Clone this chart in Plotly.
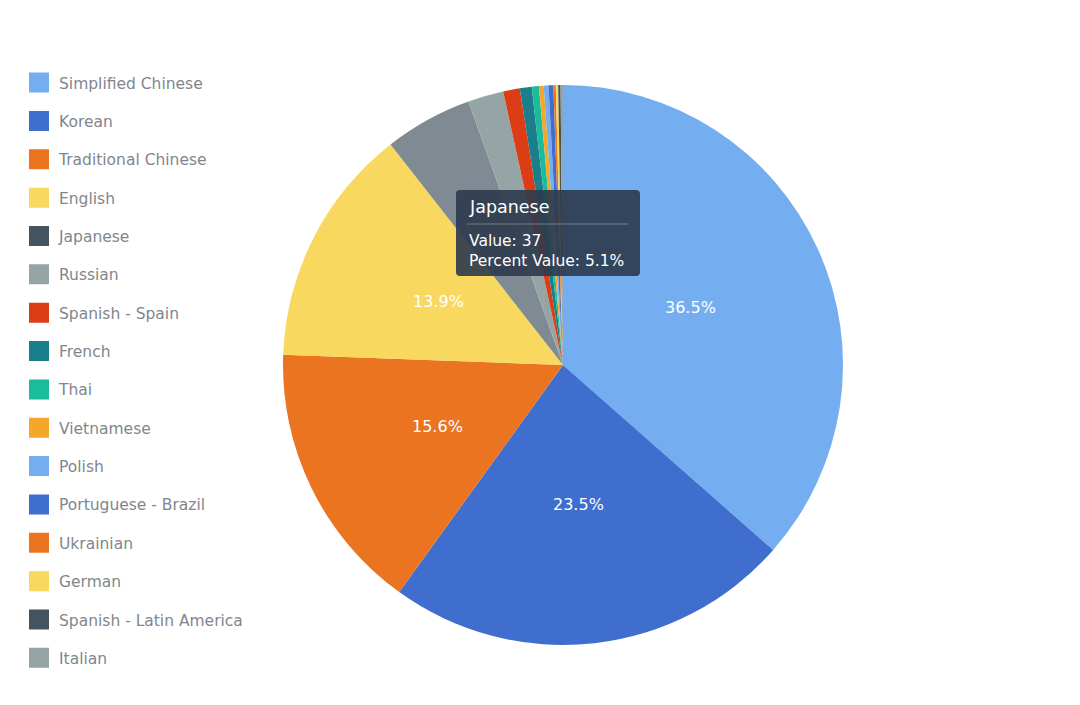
import math
import plotly.graph_objects as go

# language breakdown, clockwise from 12 o'clock
languages = ['Simplified Chinese', 'Korean', 'Traditional Chinese', 'English', 'Japanese',
             'Russian', 'Spanish - Spain', 'French', 'Thai', 'Vietnamese', 'Polish',
             'Portuguese - Brazil', 'Ukrainian', 'German', 'Spanish - Latin America', 'Italian']
values = [266, 171, 114, 101, 37, 15, 7, 5, 3, 2, 2, 2, 1, 1, 1, 1]
colors = ['#74aef1', '#3f6ecf', '#eb7420', '#f8d85e', '#44535e', '#95a5a6', '#db3d17',
          '#1a7f8a', '#1abc9c', '#f6a62a', '#74aef1', '#3f6ecf', '#eb7420', '#f8d85e',
          '#44535e', '#95a5a6']
hovered = 'Japanese'
hover_color = '#7f8a93'

W, H = 1080, 705
FONT = 'DejaVu Sans'
# page draws the plot 8px in from the corner
OFF = 8


def px(x):
    return (x - OFF) / W


def py(y):
    return 1 - (y - OFF) / H


cx, cy, R = 563, 365, 280
slice_colors = [hover_color if l == hovered else c for l, c in zip(languages, colors)]

fig = go.Figure()
fig.add_trace(go.Pie(
    labels=languages, values=values, sort=False, direction='clockwise', rotation=0,
    marker=dict(colors=slice_colors, line=dict(width=0)),
    textinfo='none',
    domain=dict(x=[px(cx - R), px(cx + R)], y=[py(cy + R), py(cy - R)]),
    showlegend=False, hoverinfo='skip',
))

# percent labels at half radius on the biggest slices
total = sum(values)
cum = 0
for l, v in zip(languages, values):
    mid = 2 * math.pi * (cum + v / 2) / total
    cum += v
    if v < 100:
        continue
    fig.add_annotation(text=f'{v / total * 100:.1f}%', xref='paper', yref='paper',
                       x=px(cx + 0.5 * R * math.sin(mid)), y=py(cy - 0.5 * R * math.cos(mid)),
                       xanchor='center', yanchor='middle',
                       showarrow=False, font=dict(color='white', size=16, family=FONT))

# legend swatches
for i, (l, c) in enumerate(zip(languages, colors)):
    fig.add_trace(go.Scatter(
        x=[None], y=[None], mode='markers', name=l, legendgroup=str(i),
        marker=dict(symbol='square', size=16, color=c, line=dict(color=c, width=4)),
    ))

# tooltip for the hovered slice
idx = languages.index(hovered)
pct = values[idx] / total * 100
x0, x1, y0, y1 = 456, 640, 190, 276
r = 4
path = (f'M {px(x0 + r)} {py(y0)} L {px(x1 - r)} {py(y0)} Q {px(x1)} {py(y0)} {px(x1)} {py(y0 + r)} '
        f'L {px(x1)} {py(y1 - r)} Q {px(x1)} {py(y1)} {px(x1 - r)} {py(y1)} '
        f'L {px(x0 + r)} {py(y1)} Q {px(x0)} {py(y1)} {px(x0)} {py(y1 - r)} '
        f'L {px(x0)} {py(y0 + r)} Q {px(x0)} {py(y0)} {px(x0 + r)} {py(y0)} Z')
fig.add_shape(type='path', path=path, xref='paper', yref='paper',
              fillcolor='rgba(44,58,76,0.9)', line=dict(width=0))
fig.add_shape(type='line', xref='paper', yref='paper', x0=px(467), x1=px(628), y0=py(224), y1=py(224),
              line=dict(color='rgba(255,255,255,0.3)', width=1))
fig.add_annotation(text=hovered, xref='paper', yref='paper', x=px(467), y=py(207),
                   xanchor='left', yanchor='middle', showarrow=False,
                   font=dict(color='white', size=17.5, family=FONT))
fig.add_annotation(text=f'Value: {values[idx]}<br>Percent Value: {pct:.1f}%', xref='paper', yref='paper',
                   x=px(467), y=py(251), xanchor='left', yanchor='middle', showarrow=False, align='left',
                   font=dict(color='white', size=15.5, family=FONT))

fig.update_layout(
    width=W, height=H,
    margin=dict(l=0, r=0, t=0, b=0),
    paper_bgcolor='white', plot_bgcolor='white',
    xaxis=dict(visible=False), yaxis=dict(visible=False),
    legend=dict(x=px(19), y=py(66), xanchor='left', yanchor='top',
                font=dict(size=15.5, color='#7f868c', family=FONT),
                tracegroupgap=15.2, itemclick=False),
)

fig.write_html('out.html')
